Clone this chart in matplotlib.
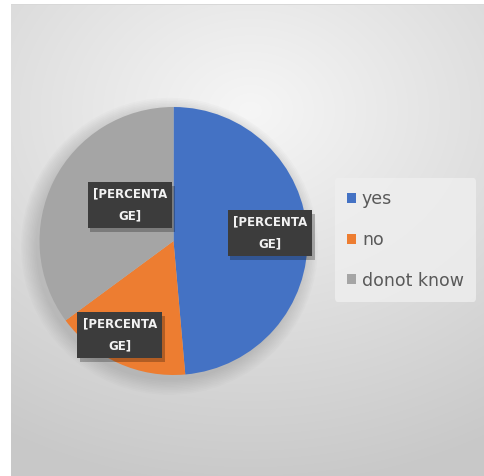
import numpy as np
import matplotlib
matplotlib.use('Agg')
import matplotlib.pyplot as plt
import matplotlib.patheffects as pe
from matplotlib.patches import Circle

# data (labels are Excel's placeholder text)
categories = ['yes', 'no', 'donot know']
shares = [48.6, 16.3, 35.1]
colors = ['#4472C4', '#ED7D31', '#A5A5A5']
label_text = '[PERCENTA\nGE]'
# where each data label sits, in pie units (radius = 1)
label_pos = [(0.72, 0.06), (-0.40, -0.70), (-0.325, 0.27)]

W, H = 485, 476
fig = plt.figure(figsize=(W / 100, H / 100), dpi=100)
fig.patch.set_facecolor('white')

# background: soft radial gradient, light top middle -> grey at bottom
bg = fig.add_axes([0, 0, 1, 1])
yy, xx = np.mgrid[0:H, 0:W]
d = np.sqrt(((xx - 250) / 480.0) ** 2 + ((yy - 110) / 380.0) ** 2)
d = np.clip(d, 0, 1)
img = 0.965 - 0.18 * d
rgb = np.dstack([img, img, img])
rgb[:, :11] = 1.0
rgb[:4, :] = 1.0
rgb[4, 11:] = 0.85
bg.imshow(rgb, extent=[0, W, H, 0], aspect='auto', interpolation='bilinear')
bg.set_xlim(0, W)
bg.set_ylim(H, 0)
bg.axis('off')

# pie axes: centre (173.5, 241) px, radius 134 px
cx, cy, r = 173.5, 241, 134
ax = fig.add_axes([(cx - r) / W, (H - cy - r) / H, 2 * r / W, 2 * r / H])

# soft shadow under the pie
for i in range(10):
    ax.add_patch(Circle((-0.03, -0.04), 1.0 + 0.012 * i, color='#808080',
                        alpha=0.035, lw=0, zorder=0, clip_on=False))

wedges, _ = ax.pie(shares, colors=colors, startangle=90, counterclock=False,
                   radius=1.0, wedgeprops=dict(linewidth=0))
for w in wedges:
    w.set_zorder(2)
ax.set_xlim(-1, 1)
ax.set_ylim(-1, 1)
ax.axis('off')

for (x, y) in label_pos:
    t = ax.text(x, y, label_text, ha='center', va='center', fontsize=8.5,
                fontweight='bold', color='#f2f2f2', linespacing=1.9, zorder=4,
                bbox=dict(boxstyle='square,pad=0.45', fc='#3c3c3c', ec='none'))
    t.get_bbox_patch().set_path_effects(
        [pe.SimplePatchShadow(offset=(2, -3), shadow_rgbFace='black', alpha=0.25),
         pe.Normal()])
    # Excel's box is a bit wider than the text
    t.get_bbox_patch().set_boxstyle('square', pad=0.45)

leg = fig.legend(wedges, categories, loc='center left',
                 bbox_to_anchor=(335 / W, 1 - 240 / H), frameon=True,
                 fontsize=12.5, handlelength=0.5, handleheight=0.5,
                 handletextpad=0.35, labelspacing=1.3, borderpad=0.7,
                 borderaxespad=0)
leg.get_frame().set_facecolor('#efefef')
leg.get_frame().set_edgecolor('none')
leg.get_frame().set_alpha(0.8)
for t in leg.get_texts():
    t.set_color('#595959')

fig.savefig('out.png', dpi=100)
